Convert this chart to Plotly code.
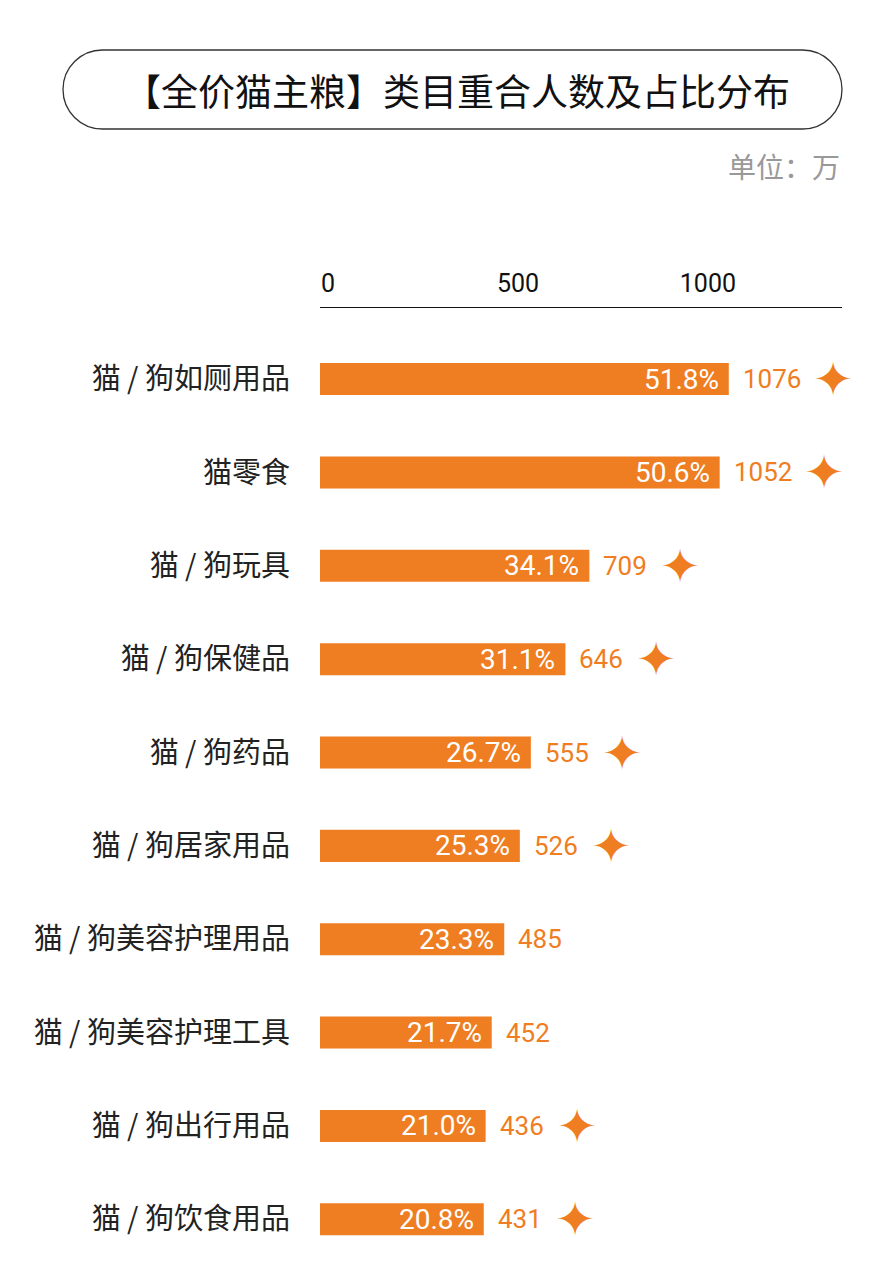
import plotly.graph_objects as go

categories = ["猫 / 狗如厕用品", "猫零食", "猫 / 狗玩具", "猫 / 狗保健品", "猫 / 狗药品",
              "猫 / 狗居家用品", "猫 / 狗美容护理用品", "猫 / 狗美容护理工具", "猫 / 狗出行用品", "猫 / 狗饮食用品"]
values = [1076, 1052, 709, 646, 555, 526, 485, 452, 436, 431]
shares = ["51.8%", "50.6%", "34.1%", "31.1%", "26.7%", "25.3%", "23.3%", "21.7%", "21.0%", "20.8%"]
starred = [True, True, True, True, True, True, False, False, True, True]
tick_vals = [0, 500, 1000]
title_text = "【全价猫主粮】类目重合人数及占比分布"
unit_text = "单位：万"

ORANGE = "#EF7D21"
NUM_FONT = "Roboto, sans-serif"
CJK_FONT = "Noto Sans CJK SC, sans-serif"

W, H = 871, 1278
ML, MR, MT, MB = 320, 29, 308, 12
PW, PH = W - ML - MR, H - MT - MB


def px(x):
    return (x - ML) / PW


def py(y):
    return (H - MB - y) / PH


fig = go.Figure()
fig.add_trace(go.Bar(
    x=values, y=categories, orientation="h", width=0.343,
    marker=dict(color=ORANGE, line=dict(width=0)), hoverinfo="skip",
))

annotations = []
for c, v, s, st in zip(categories, values, shares, starred):
    annotations.append(dict(x=v, y=c, xref="x", yref="y", text=s, showarrow=False,
                            xanchor="right", xshift=-8, yanchor="middle",
                            font=dict(family=NUM_FONT, size=28, color="white")))
    annotations.append(dict(x=v, y=c, xref="x", yref="y", text=str(v), showarrow=False,
                            xanchor="left", xshift=12, yanchor="middle",
                            font=dict(family=NUM_FONT, size=26, color=ORANGE)))
    if st:
        annotations.append(dict(x=v, y=c, xref="x", yref="y", text="✦", showarrow=False,
                                xanchor="center", xshift=14 + len(str(v)) * 13 + 38, yanchor="middle",
                                font=dict(family="DejaVu Sans", size=48, color=ORANGE)))

annotations.append(dict(x=px(457), y=py(90), xref="paper", yref="paper", text=title_text,
                        showarrow=False, xanchor="center", yanchor="middle",
                        font=dict(family=CJK_FONT, size=37, color="#111")))
annotations.append(dict(x=px(842), y=py(166), xref="paper", yref="paper", text=unit_text,
                        showarrow=False, xanchor="right", yanchor="middle",
                        font=dict(family=CJK_FONT, size=28, color="#999")))

# rounded pill around title
x0, x1, top, bot = 63, 842, 50, 129
r = (bot - top) / 2
cy = (top + bot) / 2
k = 0.5523 * r
pts = [
    ("M", [(x0 + r, top)]),
    ("L", [(x1 - r, top)]),
    ("C", [(x1 - r + k, top), (x1, cy - k), (x1, cy)]),
    ("C", [(x1, cy + k), (x1 - r + k, bot), (x1 - r, bot)]),
    ("L", [(x0 + r, bot)]),
    ("C", [(x0 + r - k, bot), (x0, cy + k), (x0, cy)]),
    ("C", [(x0, cy - k), (x0 + r - k, top), (x0 + r, top)]),
]
path = ""
for cmd, pl in pts:
    path += cmd + " " + " ".join(f"{px(a):.6f},{py(b):.6f}" for a, b in pl) + " "
path += "Z"

fig.update_layout(
    width=W, height=H,
    margin=dict(l=ML, r=MR, t=MT, b=MB),
    paper_bgcolor="white", plot_bgcolor="white",
    showlegend=False,
    annotations=annotations,
    shapes=[dict(type="path", path=path, xref="paper", yref="paper",
                 line=dict(color="#333", width=1.3), fillcolor="rgba(0,0,0,0)")],
    xaxis=dict(side="top", range=[0, 1374], tickvals=tick_vals, ticktext=[str(t) for t in tick_vals],
               showline=True, linecolor="#111", linewidth=1, showgrid=False, zeroline=False,
               ticks="", ticklabelshift=8, ticklabelstandoff=5,
               tickfont=dict(family=NUM_FONT, size=25, color="#111"), fixedrange=True),
    yaxis=dict(type="category", range=[9.5, -0.761], showgrid=False, zeroline=False, showline=False,
               ticks="", ticklabelstandoff=29,
               tickfont=dict(family=CJK_FONT, size=29, color="#222"), fixedrange=True),
)

fig.write_html("out.html")
